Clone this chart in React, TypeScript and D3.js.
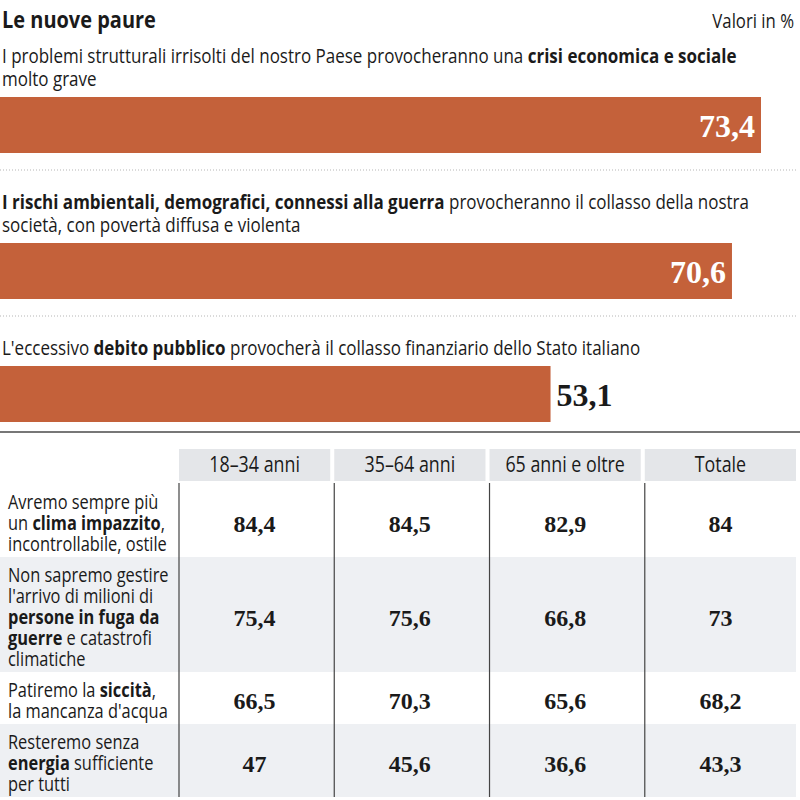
import React, { useLayoutEffect, useRef, useState } from "react";
import * as d3 from "d3";

const title = "Le nuove paure";
const unitNote = "Valori in %";
const fearLabels = [
  "I problemi strutturali irrisolti del nostro Paese provocheranno una **crisi economica e sociale**\nmolto grave",
  "**I rischi ambientali, demografici, connessi alla guerra** provocheranno il collasso della nostra\nsocietà, con povertà diffusa e violenta",
  "L'eccessivo **debito pubblico** provocherà il collasso finanziario dello Stato italiano",
];
const fearValues = [73.4, 70.6, 53.1];

const ageGroups = ["18–34 anni", "35–64 anni", "65 anni e oltre", "Totale"];
const scenarioLabels = [
  "Avremo sempre più\nun **clima impazzito**,\nincontrollabile, ostile",
  "Non sapremo gestire\nl'arrivo di milioni di\n**persone in fuga da**\n**guerre** e catastrofi\nclimatiche",
  "Patiremo la **siccità**,\nla mancanza d'acqua",
  "Resteremo senza\n**energia** sufficiente\nper tutti",
];
const values1834 = [84.4, 75.4, 66.5, 47];
const values3564 = [84.5, 75.6, 70.3, 45.6];
const values65 = [82.9, 66.8, 65.6, 36.6];
const valuesTot = [84, 73, 68.2, 43.3];

const SANS = "'Open Sans', 'Noto Sans', sans-serif";
const SERIF = "'Liberation Serif', 'Times New Roman', serif";
const TEXT = "#1a1a1a";
const BAR = "#c4613a";

const fmt = (v: number) => String(v).replace(".", ",");

function parseLine(line: string) {
  return line.split("**").map((t, i) => ({ text: t, bold: i % 2 === 1 })).filter((s) => s.text.length > 0);
}

function RichText({ x, y, line, k, size, anchor = "start", bold = false, fill = TEXT }: any) {
  const segs = parseLine(line);
  return (
    <text
      transform={`translate(${x},${y}) scale(${k},1)`}
      textAnchor={anchor}
      fontSize={size}
      fontFamily={SANS}
      fill={fill}
      style={{ whiteSpace: "pre" }}
    >
      {segs.map((s, i) => (
        <tspan key={i} fontWeight={s.bold || bold ? 700 : 400}>
          {s.text}
        </tspan>
      ))}
    </text>
  );
}

export default function App() {
  const [k, setK] = useState(0.78);
  const measureRef = useRef<SVGTextElement>(null);
  useLayoutEffect(() => {
    const el = measureRef.current;
    if (el) {
      const len = el.getComputedTextLength();
      if (len > 0) setK(735 / len);
    }
  }, []);

  const W = 800;
  const x = d3.scaleLinear().domain([0, d3.max(fearValues) as number]).range([0, 761]);

  // bar section layout
  const items: any[] = [];
  let base = 63;
  const lineH = 23;
  let solidY = 0;
  fearLabels.forEach((label, i) => {
    const lines = label.split("\n");
    const baselines = lines.map((_, j) => base + j * lineH);
    const barTop = baselines[baselines.length - 1] + 11;
    const barH = 56;
    const barBottom = barTop + barH;
    const sep = barBottom + 17;
    items.push({ lines, baselines, barTop, barH, sep, value: fearValues[i] });
    base = sep + 39;
    solidY = barBottom + 10;
  });

  // table layout
  const headerTop = solidY + 17;
  const headerH = 32;
  const rowsTop = headerTop + headerH + 3;
  const rowLH = 21;
  const cols = d3.scaleBand<string>().domain(ageGroups).range([179, 796]).paddingInner(0.026).paddingOuter(0);
  const colValues = [values1834, values3564, values65, valuesTot];
  const rows: any[] = [];
  let ry = rowsTop;
  scenarioLabels.forEach((label, i) => {
    const lines = label.split("\n");
    const h = lines.length * rowLH + 10;
    rows.push({ lines, top: ry, h, vals: colValues.map((c) => c[i]) });
    ry += h;
  });
  const tableBottom = ry;

  return (
    <svg width={W} height={800} style={{ position: "absolute", left: 0, top: 0, background: "#fff" }}>
      <text ref={measureRef} x={0} y={-50} fontSize={20} fontFamily={SANS} opacity={0} style={{ whiteSpace: "pre" }}>
        {parseLine(fearLabels[0].split("\n")[0]).map((s, i) => (
          <tspan key={i} fontWeight={s.bold ? 700 : 400}>{s.text}</tspan>
        ))}
      </text>

      <RichText x={2} y={28} line={title} k={k} size={23.5} bold />
      <RichText x={794} y={28} line={unitNote} k={k} size={19.7} anchor="end" />

      {items.map((it, i) => {
        const w = x(it.value);
        const inside = it.value > 60;
        return (
          <g key={i}>
            {it.lines.map((l: string, j: number) => (
              <RichText key={j} x={2} y={it.baselines[j]} line={l} k={k} size={20} />
            ))}
            <rect x={x(0)} y={it.barTop} width={w} height={it.barH} fill={BAR} />
            <text
              x={inside ? w - 6 : w + 6}
              y={it.barTop + 40}
              textAnchor={inside ? "end" : "start"}
              fontFamily={SERIF}
              fontWeight={700}
              fontSize={32}
              fill={inside ? "#fff" : TEXT}
            >
              {fmt(it.value)}
            </text>
            {i < items.length - 1 && (
              <line x1={0} x2={796} y1={it.sep} y2={it.sep} stroke="#b5b5b5" strokeWidth={1} strokeDasharray="1 2" />
            )}
          </g>
        );
      })}

      <line x1={0} x2={W} y1={solidY} y2={solidY} stroke="#4a4a4a" strokeWidth={1.5} />

      {ageGroups.map((g) => (
        <g key={g}>
          <rect x={cols(g)} y={headerTop} width={cols.bandwidth()} height={headerH} fill="#e4e6e9" />
          <RichText x={(cols(g) as number) + cols.bandwidth() / 2} y={headerTop + 23} line={g} k={k} size={21} anchor="middle" />
        </g>
      ))}

      {rows.map((r, i) => {
        const textBlock = r.lines.length * rowLH;
        const first = r.top + (r.h - textBlock) / 2 + 20;
        const cy = r.top + r.h / 2;
        return (
          <g key={i}>
            {i % 2 === 1 && <rect x={0} y={r.top} width={796} height={r.h} fill="#eef0f3" />}
            {r.lines.map((l: string, j: number) => (
              <RichText key={j} x={8} y={first + j * rowLH} line={l} k={k} size={19.3} />
            ))}
            {ageGroups.map((g, c) => (
              <text
                key={g}
                x={(cols(g) as number) + cols.bandwidth() / 2}
                y={cy + 11}
                textAnchor="middle"
                fontFamily={SERIF}
                fontWeight={700}
                fontSize={24}
                fill={TEXT}
              >
                {fmt(r.vals[c])}
              </text>
            ))}
          </g>
        );
      })}

      {ageGroups.map((g) => (
        <line
          key={g}
          x1={cols(g)}
          x2={cols(g)}
          y1={rowsTop - 1}
          y2={tableBottom}
          stroke="#444"
          strokeWidth={1.2}
        />
      ))}
    </svg>
  );
}
